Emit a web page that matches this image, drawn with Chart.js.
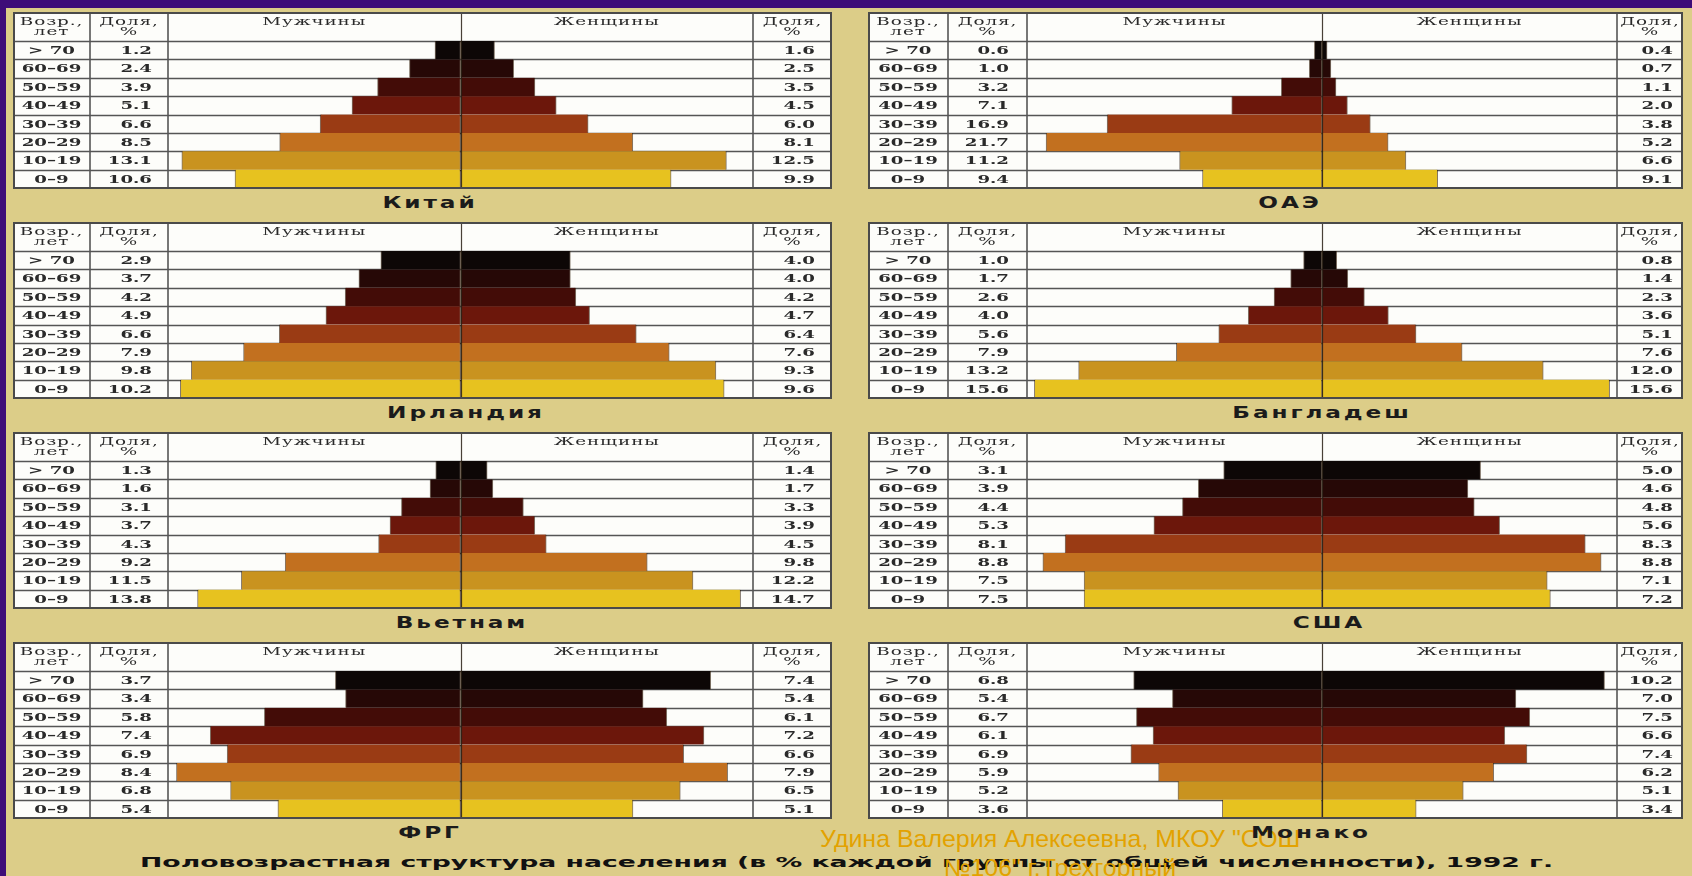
<!DOCTYPE html>
<html lang="ru">
<head>
<meta charset="utf-8">
<title>Половозрастная структура населения, 1992 г.</title>
<script src="https://cdn.jsdelivr.net/npm/chart.js@4.4.1/dist/chart.umd.min.js"></script>
<style>
  html, body { margin: 0; padding: 0; }
  body {
    width: 1692px; height: 876px; overflow: hidden; position: relative;
    background: #dccd88;
    font-family: "DejaVu Sans", sans-serif;
  }
  #frameTop { position: absolute; left: 0; top: 0; width: 1692px; height: 8px; background: #3e0c78; }
  #frameLeft { position: absolute; left: 0; top: 0; width: 6px; height: 876px; background: #3e0c78; }
  canvas.pyr { position: absolute; }
  .country {
    position: absolute; white-space: nowrap; line-height: 18px;
    font: bold 16px "DejaVu Sans", sans-serif; letter-spacing: 2px; color: #1b1b1b;
    transform: translateX(-50%) scaleX(1.45);
  }
  #footer {
    position: absolute; left: 140px; top: 854px; white-space: nowrap; line-height: 18px;
    font: bold 14px "DejaVu Sans", sans-serif; color: #111;
    transform-origin: 0 50%;
  }
  .sign {
    position: absolute; white-space: nowrap; line-height: 26px;
    font: 24px "Liberation Sans Narrow", "Liberation Sans", sans-serif; color: #e3a200;
    transform-origin: 50% 50%;
  }
</style>
</head>
<body>
<div id="frameTop"></div>
<div id="frameLeft"></div>

<div id="footer">Половозрастная структура населения (в % каждой группы от общей численности), 1992 г.</div>
<div class="sign" id="sign1">Удина Валерия Алексеевна, МКОУ "СОШ</div>
<div class="sign" id="sign2">№106" г.Трехгорный</div>

<script>
// DATA ----------------------------------------------------------------------
const ageGroups = ['> 70', '60–69', '50–59', '40–49', '30–39', '20–29', '10–19', '0–9'];
const countryNames = ['Китай', 'ОАЭ', 'Ирландия', 'Бангладеш', 'Вьетнам', 'США', 'ФРГ', 'Монако'];

const chinaMale        = [1.2, 2.4, 3.9, 5.1, 6.6, 8.5, 13.1, 10.6];
const chinaFemale      = [1.6, 2.5, 3.5, 4.5, 6.0, 8.1, 12.5, 9.9];
const uaeMale          = [0.6, 1.0, 3.2, 7.1, 16.9, 21.7, 11.2, 9.4];
const uaeFemale        = [0.4, 0.7, 1.1, 2.0, 3.8, 5.2, 6.6, 9.1];
const irelandMale      = [2.9, 3.7, 4.2, 4.9, 6.6, 7.9, 9.8, 10.2];
const irelandFemale    = [4.0, 4.0, 4.2, 4.7, 6.4, 7.6, 9.3, 9.6];
const bangladeshMale   = [1.0, 1.7, 2.6, 4.0, 5.6, 7.9, 13.2, 15.6];
const bangladeshFemale = [0.8, 1.4, 2.3, 3.6, 5.1, 7.6, 12.0, 15.6];
const vietnamMale      = [1.3, 1.6, 3.1, 3.7, 4.3, 9.2, 11.5, 13.8];
const vietnamFemale    = [1.4, 1.7, 3.3, 3.9, 4.5, 9.8, 12.2, 14.7];
const usaMale          = [3.1, 3.9, 4.4, 5.3, 8.1, 8.8, 7.5, 7.5];
const usaFemale        = [5.0, 4.6, 4.8, 5.6, 8.3, 8.8, 7.1, 7.2];
const frgMale          = [3.7, 3.4, 5.8, 7.4, 6.9, 8.4, 6.8, 5.4];
const frgFemale        = [7.4, 5.4, 6.1, 7.2, 6.6, 7.9, 6.5, 5.1];
const monacoMale       = [6.8, 5.4, 6.7, 6.1, 6.9, 5.9, 5.2, 3.6];
const monacoFemale     = [10.2, 7.0, 7.5, 6.6, 7.4, 6.2, 5.1, 3.4];

const maleShares   = [chinaMale, uaeMale, irelandMale, bangladeshMale, vietnamMale, usaMale, frgMale, monacoMale];
const femaleShares = [chinaFemale, uaeFemale, irelandFemale, bangladeshFemale, vietnamFemale, usaFemale, frgFemale, monacoFemale];

// half-width of each pyramid's axis, in %
const axisMax = [13.75, 23.2, 10.65, 16.0, 15.35, 9.3, 8.65, 10.65];

// STYLE / LAYOUT --------------------------------------------------------------
const ageColors = ['#0d0706', '#260806', '#430c07', '#6c170b', '#9a3b14', '#c2701f', '#c9931f', '#e7c21f'];
const LEFT  = { x: 13,  w: 819, ageW: 77, barLeft: 155, barRight: 740, sharePad: 16, rightPad: 17 };
const RIGHT = { x: 868, w: 815, ageW: 80, barLeft: 159, barRight: 749, sharePad: 18, rightPad: 10 };
const TABLE_TOPS = [12, 222, 432, 642];
const HEADER_H = 29;
const TABLE_H = 176;
const TITLE_X = [430, 1290, 466, 1322, 462, 1329, 430, 1311];
const HEAD_SX = 1.75;  // the scanned table is stretched sideways
const CELL_SX = 1.65;

function wideText(ctx, text, x, y, align, sx) {
  ctx.save();
  ctx.translate(x, y);
  ctx.scale(sx, 1);
  ctx.textAlign = align;
  ctx.fillText(text, 0, 0);
  ctx.restore();
}

function hLine(ctx, x1, x2, y) {
  ctx.beginPath(); ctx.moveTo(x1, y); ctx.lineTo(x2, y); ctx.stroke();
}
function vLine(ctx, x, y1, y2) {
  ctx.beginPath(); ctx.moveTo(x, y1); ctx.lineTo(x, y2); ctx.stroke();
}

// TABLE PLUGIN ----------------------------------------------------------------
function tablePlugin(i, geo) {
  return {
    id: 'pyramidTable',
    beforeDatasetsDraw(chart) {
      const { ctx, chartArea: ca, scales: { y } } = chart;
      const W = chart.width, H = ca.bottom;
      const rowH = y.getPixelForTick(1) - y.getPixelForTick(0);
      ctx.save();
      ctx.fillStyle = '#fdfdfa';
      ctx.fillRect(0, 0, W, H);

      // row lines
      ctx.strokeStyle = '#555';
      ctx.lineWidth = 1.3;
      for (let r = 0; r < ageGroups.length; r++) {
        hLine(ctx, 0, W, Math.round(y.getPixelForTick(r) - rowH / 2) + 0.5);
      }
      // column lines
      ctx.strokeStyle = '#555';
      ctx.lineWidth = 1.6;
      vLine(ctx, geo.ageW, 0, H);
      vLine(ctx, ca.left, 0, H);
      vLine(ctx, ca.right, 0, H);

      // header
      ctx.fillStyle = '#2a2a2a';
      ctx.textBaseline = 'middle';
      ctx.font = '10.5px "DejaVu Serif", serif';
      if ('letterSpacing' in ctx) ctx.letterSpacing = '0.5px';
      const mid = chart.scales.x.getPixelForValue(0);
      wideText(ctx, 'Возр.,', geo.ageW / 2, 10, 'center', HEAD_SX);
      wideText(ctx, 'лет', geo.ageW / 2, 20, 'center', HEAD_SX);
      wideText(ctx, 'Доля,', (geo.ageW + ca.left) / 2, 10, 'center', HEAD_SX);
      wideText(ctx, '%', (geo.ageW + ca.left) / 2, 20, 'center', HEAD_SX);
      wideText(ctx, 'Мужчины', (ca.left + mid) / 2, 10, 'center', HEAD_SX);
      wideText(ctx, 'Женщины', (mid + ca.right) / 2, 10, 'center', HEAD_SX);
      wideText(ctx, 'Доля,', (ca.right + W) / 2, 10, 'center', HEAD_SX);
      wideText(ctx, '%', (ca.right + W) / 2, 20, 'center', HEAD_SX);

      // cells
      ctx.font = 'bold 11px "DejaVu Serif", serif';
      if ('letterSpacing' in ctx) ctx.letterSpacing = '0px';
      ageGroups.forEach((a, r) => {
        const yy = y.getPixelForTick(r) + 1;
        wideText(ctx, a, geo.ageW / 2, yy, 'center', CELL_SX);
        wideText(ctx, maleShares[i][r].toFixed(1), ca.left - geo.sharePad, yy, 'right', CELL_SX);
        wideText(ctx, femaleShares[i][r].toFixed(1), W - geo.rightPad, yy, 'right', CELL_SX);
      });
      ctx.restore();
    },
    afterDatasetsDraw(chart) {
      const { ctx, chartArea: ca } = chart;
      const mid = chart.scales.x.getPixelForValue(0);
      ctx.save();
      ctx.strokeStyle = 'rgba(40,30,20,0.85)';
      ctx.lineWidth = 1.2;
      vLine(ctx, Math.round(mid) + 0.5, 0, ca.bottom);
      ctx.strokeStyle = '#4a4a4a';
      ctx.lineWidth = 2;
      ctx.strokeRect(1, 1, chart.width - 2, ca.bottom - 1);
      ctx.restore();
    }
  };
}

// PYRAMIDS --------------------------------------------------------------------
function makePyramid(i) {
  const geo = i % 2 === 0 ? LEFT : RIGHT;
  const top = TABLE_TOPS[Math.floor(i / 2)];

  const cv = document.createElement('canvas');
  cv.className = 'pyr';
  cv.width = geo.w;
  cv.height = TABLE_H + 2;
  cv.style.left = geo.x + 'px';
  cv.style.top = top + 'px';
  document.body.appendChild(cv);

  const title = document.createElement('div');
  title.className = 'country';
  title.textContent = countryNames[i];
  title.style.left = TITLE_X[i] + 'px';
  title.style.top = (top + TABLE_H + 5) + 'px';
  document.body.appendChild(title);

  const barStyle = {
    backgroundColor: ageColors,
    borderColor: 'rgba(45,25,5,0.6)',
    borderWidth: { left: 1, right: 1, top: 0, bottom: 0 },
    borderSkipped: false,
    barPercentage: 1,
    categoryPercentage: 1
  };

  new Chart(cv.getContext('2d'), {
    type: 'bar',
    data: {
      labels: ageGroups,
      datasets: [
        Object.assign({ label: 'Мужчины', data: maleShares[i].map(v => -v) }, barStyle),
        Object.assign({ label: 'Женщины', data: femaleShares[i] }, barStyle)
      ]
    },
    options: {
      indexAxis: 'y',
      responsive: false,
      animation: false,
      events: [],
      layout: { padding: { left: geo.barLeft, right: geo.w - geo.barRight, top: HEADER_H, bottom: 2 } },
      scales: {
        x: { min: -axisMax[i], max: axisMax[i], stacked: true, display: false },
        y: { stacked: true, display: false, offset: true }
      },
      plugins: { legend: { display: false }, tooltip: { enabled: false } }
    },
    plugins: [tablePlugin(i, geo)]
  });
}

countryNames.forEach((name, i) => makePyramid(i));

// TEXT FITTING ----------------------------------------------------------------
const footer = document.getElementById('footer');
footer.style.transform = 'scaleX(' + (1414 / footer.offsetWidth) + ')';

const sign1 = document.getElementById('sign1');
const sign2 = document.getElementById('sign2');
const signScale = 480 / sign1.offsetWidth;
[[sign1, 838], [sign2, 867]].forEach(([el, cy]) => {
  el.style.left = (1060 - el.offsetWidth / 2) + 'px';
  el.style.top = (cy - 13) + 'px';
  el.style.transform = 'scaleX(' + signScale + ')';
});
</script>
</body>
</html>
